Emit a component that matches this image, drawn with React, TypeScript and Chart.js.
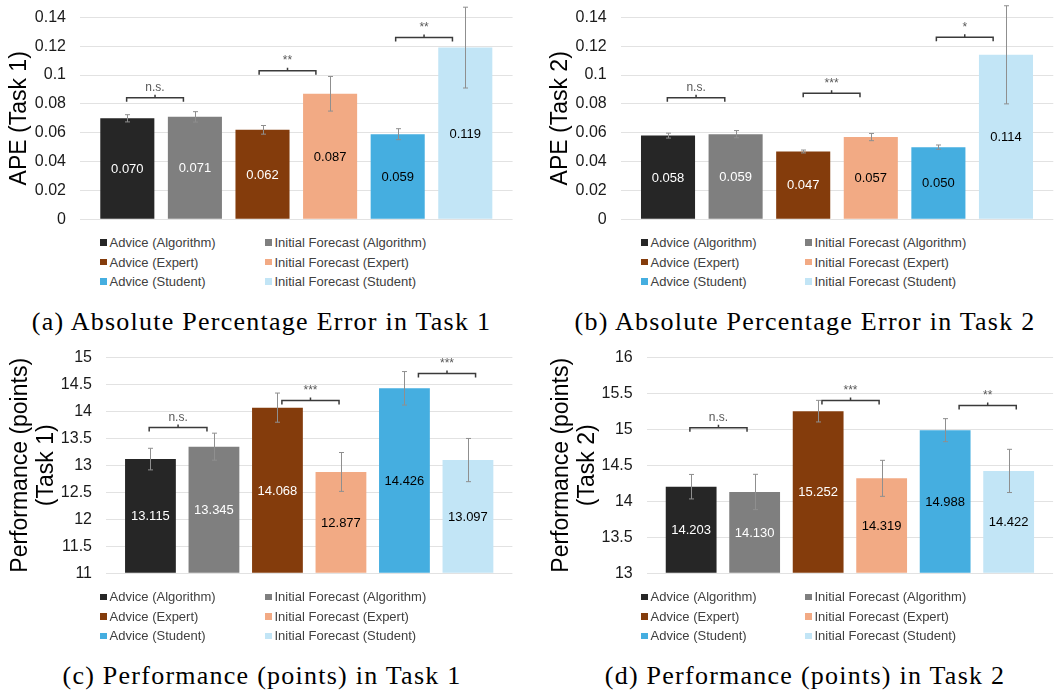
import React, { useEffect, useRef } from "react";
import { Chart, registerables } from "chart.js";

Chart.register(...registerables);

// ---------- data ----------
const groups = [
  "Advice (Algorithm)",
  "Initial Forecast (Algorithm)",
  "Advice (Expert)",
  "Initial Forecast (Expert)",
  "Advice (Student)",
  "Initial Forecast (Student)",
];
const barColors = ["#262626", "#7f7f7f", "#843c0c", "#f2aa84", "#45aee0", "#c2e5f6"];
const valueLabelColors = ["#ffffff", "#ffffff", "#ffffff", "#000000", "#000000", "#000000"];
const barIndex = [0, 1, 2, 3, 4, 5];

const apeTask1 = [0.07, 0.071, 0.062, 0.087, 0.059, 0.119];
const apeTask1Err = [0.0025, 0.0036, 0.003, 0.012, 0.0038, 0.028];
const apeTask2 = [0.058, 0.059, 0.047, 0.057, 0.05, 0.114];
const apeTask2Err = [0.0017, 0.0025, 0.001, 0.0025, 0.0015, 0.034];
const perfTask1 = [13.115, 13.345, 14.068, 12.877, 14.426, 13.097];
const perfTask1Err = [0.2, 0.25, 0.27, 0.36, 0.31, 0.4];
const perfTask2 = [14.203, 14.13, 15.252, 14.319, 14.988, 14.422];
const perfTask2Err = [0.17, 0.245, 0.15, 0.25, 0.16, 0.3];

// significance brackets (x in bar index units, y in value units)
const sigApe1Labels = ["n.s.", "**", "**"];
const sigApe1From = [-0.01, 1.95, 3.97];
const sigApe1To = [0.83, 2.79, 4.81];
const sigApe1Y = [0.0843, 0.103, 0.126];

const sigApe2Labels = ["n.s.", "***", "*"];
const sigApe2From = [-0.01, 2.0, 3.97];
const sigApe2To = [0.84, 2.84, 4.81];
const sigApe2Y = [0.0843, 0.0873, 0.1261];

const sigPerf1Labels = ["n.s.", "***", "***"];
const sigPerf1From = [-0.02, 2.07, 4.22];
const sigPerf1To = [0.89, 2.97, 5.12];
const sigPerf1Y = [13.7, 14.2, 14.7];

const sigPerf2Labels = ["n.s.", "***", "**"];
const sigPerf2From = [-0.02, 2.06, 4.22];
const sigPerf2To = [0.88, 2.96, 5.12];
const sigPerf2Y = [15.02, 15.4, 15.33];

const SANS = "'Liberation Sans', Arial, sans-serif";

type PanelProps = {
  left: number;
  top: number;
  w: number;
  h: number;
  axisWidth: number;
  padTop: number;
  padBottom: number;
  padRight: number;
  titlePad: number;
  title: string | string[];
  yMin: number;
  yMax: number;
  yStep: number;
  values: number[];
  errors: number[];
  sigLabels: string[];
  sigFrom: number[];
  sigTo: number[];
  sigY: number[];
  legendTop: number;
  legendX: number[];
};

function fmtTick(v: number) {
  return String(Math.round(v * 1000) / 1000);
}

function Panel(p: PanelProps) {
  const ref = useRef<HTMLCanvasElement>(null);
  useEffect(() => {
    const annotate = {
      id: "annotate",
      afterDatasetsDraw(chart: any) {
        const { ctx } = chart;
        const xs = chart.scales.x;
        const ys = chart.scales.y;
        const meta = chart.getDatasetMeta(0);
        const yBase = ys.getPixelForValue(p.yMin);
        ctx.save();
        // value labels
        ctx.font = `13px ${SANS}`;
        ctx.textAlign = "center";
        ctx.textBaseline = "middle";
        p.values.forEach((v, i) => {
          const bar = meta.data[i];
          ctx.fillStyle = valueLabelColors[i];
          ctx.fillText(v.toFixed(3), bar.x, (bar.y + yBase) / 2 + 0.5);
        });
        // error bars
        ctx.strokeStyle = "#8f8f8f";
        ctx.lineWidth = 1;
        p.values.forEach((v, i) => {
          const x = Math.round(xs.getPixelForValue(barIndex[i])) + 0.5;
          const y1 = ys.getPixelForValue(v + p.errors[i]);
          const y2 = ys.getPixelForValue(v - p.errors[i]);
          ctx.beginPath();
          ctx.moveTo(x, y1);
          ctx.lineTo(x, y2);
          ctx.moveTo(x - 2.5, y1);
          ctx.lineTo(x + 2.5, y1);
          ctx.moveTo(x - 2.5, y2);
          ctx.lineTo(x + 2.5, y2);
          ctx.stroke();
        });
        // significance brackets
        p.sigLabels.forEach((lab, i) => {
          const x1 = xs.getPixelForValue(p.sigFrom[i]);
          const x2 = xs.getPixelForValue(p.sigTo[i]);
          const y = ys.getPixelForValue(p.sigY[i]);
          const xm = (x1 + x2) / 2;
          ctx.strokeStyle = "#3a3a3a";
          ctx.lineWidth = 1.5;
          ctx.beginPath();
          ctx.moveTo(x1, y + 4);
          ctx.lineTo(x1, y);
          ctx.lineTo(x2, y);
          ctx.lineTo(x2, y + 4);
          ctx.moveTo(xm, y);
          ctx.lineTo(xm, y - 3);
          ctx.stroke();
          ctx.fillStyle = "#595959";
          ctx.font = `12px ${SANS}`;
          ctx.textAlign = "center";
          ctx.textBaseline = "alphabetic";
          ctx.fillText(lab, xm, y - 6.5);
        });
        ctx.restore();
      },
    };

    const chart = new Chart(ref.current as HTMLCanvasElement, {
      type: "bar",
      data: {
        datasets: [
          {
            data: p.values.map((v, i) => ({ x: barIndex[i], y: v })),
            backgroundColor: barColors,
            borderWidth: 0,
            barPercentage: 0.8,
            categoryPercentage: 1,
            base: p.yMin,
          } as any,
        ],
      },
      options: {
        animation: false,
        responsive: false,
        maintainAspectRatio: false,
        layout: {
          padding: { left: 0, top: p.padTop, right: p.padRight, bottom: p.padBottom },
        },
        plugins: {
          legend: { display: false },
          tooltip: { enabled: false },
        },
        scales: {
          x: {
            type: "linear",
            display: false,
            offset: false,
            min: -0.7,
            max: 5.7,
            grid: { offset: false },
            afterBuildTicks: (s: any) => {
              s.ticks = barIndex.map((v) => ({ value: v }));
            },
          },
          y: {
            min: p.yMin,
            max: p.yMax,
            ticks: {
              stepSize: p.yStep,
              padding: 14,
              color: "#1a1a1a",
              font: { family: SANS, size: 16 },
              callback: (v: any) => fmtTick(Number(v)),
            },
            grid: { color: "#e2e2e2", drawTicks: false, lineWidth: 1 },
            border: { display: false },
            title: {
              display: true,
              text: p.title,
              color: "#000000",
              font: { family: SANS, size: 23, lineHeight: 1.12 },
              padding: { top: p.titlePad, bottom: 0 },
            },
            afterFit: (s: any) => {
              s.width = p.axisWidth;
              s.paddingTop = 0;
              s.paddingBottom = 0;
            },
          },
        },
      } as any,
      plugins: [annotate],
    });
    return () => chart.destroy();
  }, []);

  return (
    <>
      <canvas
        ref={ref}
        width={p.w}
        height={p.h}
        style={{ position: "absolute", left: p.left, top: p.top, width: p.w, height: p.h }}
      />
      {groups.map((g, i) => {
        const col = i % 2;
        const row = Math.floor(i / 2);
        return (
          <div
            key={g}
            style={{
              position: "absolute",
              left: p.left + p.legendX[col],
              top: p.top + p.legendTop + row * 19.5 - 8,
              height: 16,
              display: "flex",
              alignItems: "center",
              fontFamily: SANS,
              fontSize: 13,
              color: "#404040",
              whiteSpace: "nowrap",
            }}
          >
            <span
              style={{
                display: "inline-block",
                width: 6.5,
                height: 6.5,
                background: barColors[i],
                marginRight: 3,
              }}
            />
            <span>{g}</span>
          </div>
        );
      })}
    </>
  );
}

const captionStyle: React.CSSProperties = {
  position: "absolute",
  width: 600,
  textAlign: "center",
  fontFamily: "'Liberation Serif', 'Times New Roman', serif",
  fontSize: 26,
  letterSpacing: 1.25,
  lineHeight: "30px",
  color: "#000",
  whiteSpace: "nowrap",
};

export default function App() {
  return (
    <div
      style={{
        position: "absolute",
        left: 0,
        top: 0,
        width: 1060,
        height: 698,
        overflow: "hidden",
        background: "#ffffff",
      }}
    >
      <Panel
        left={0}
        top={0}
        w={530}
        h={232}
        axisWidth={80}
        padTop={17.3}
        padBottom={12.7}
        padRight={17.4}
        titlePad={7.1}
        title="APE (Task 1)"
        yMin={0}
        yMax={0.14}
        yStep={0.02}
        values={apeTask1}
        errors={apeTask1Err}
        sigLabels={sigApe1Labels}
        sigFrom={sigApe1From}
        sigTo={sigApe1To}
        sigY={sigApe1Y}
        legendTop={242.5}
        legendX={[100, 265]}
      />
      <Panel
        left={530}
        top={0}
        w={530}
        h={232}
        axisWidth={90.7}
        padTop={17.3}
        padBottom={12.7}
        padRight={6.7}
        titlePad={17.9}
        title="APE (Task 2)"
        yMin={0}
        yMax={0.14}
        yStep={0.02}
        values={apeTask2}
        errors={apeTask2Err}
        sigLabels={sigApe2Labels}
        sigFrom={sigApe2From}
        sigTo={sigApe2To}
        sigY={sigApe2Y}
        legendTop={242.5}
        legendX={[111, 275]}
      />
      <Panel
        left={0}
        top={340}
        w={530}
        h={250}
        axisWidth={106}
        padTop={17.3}
        padBottom={16.7}
        padRight={17.6}
        titlePad={8.1}
        title={["Performance (points)", "(Task 1)"]}
        yMin={11}
        yMax={15}
        yStep={0.5}
        values={perfTask1}
        errors={perfTask1Err}
        sigLabels={sigPerf1Labels}
        sigFrom={sigPerf1From}
        sigTo={sigPerf1To}
        sigY={sigPerf1Y}
        legendTop={256.8}
        legendX={[100, 265]}
      />
      <Panel
        left={530}
        top={340}
        w={530}
        h={250}
        axisWidth={116.7}
        padTop={17.3}
        padBottom={16.7}
        padRight={6.9}
        titlePad={18.8}
        title={["Performance (points)", "(Task 2)"]}
        yMin={13}
        yMax={16}
        yStep={0.5}
        values={perfTask2}
        errors={perfTask2Err}
        sigLabels={sigPerf2Labels}
        sigFrom={sigPerf2From}
        sigTo={sigPerf2To}
        sigY={sigPerf2Y}
        legendTop={256.8}
        legendX={[111, 275]}
      />
      <div style={{ ...captionStyle, left: 261.5 - 300, top: 307 }}>
        (a) Absolute Percentage Error in Task 1
      </div>
      <div style={{ ...captionStyle, left: 805 - 300, top: 307 }}>
        (b) Absolute Percentage Error in Task 2
      </div>
      <div style={{ ...captionStyle, left: 262 - 300, top: 661 }}>
        (c) Performance (points) in Task 1
      </div>
      <div style={{ ...captionStyle, left: 805 - 300, top: 661 }}>
        (d) Performance (points) in Task 2
      </div>
    </div>
  );
}
